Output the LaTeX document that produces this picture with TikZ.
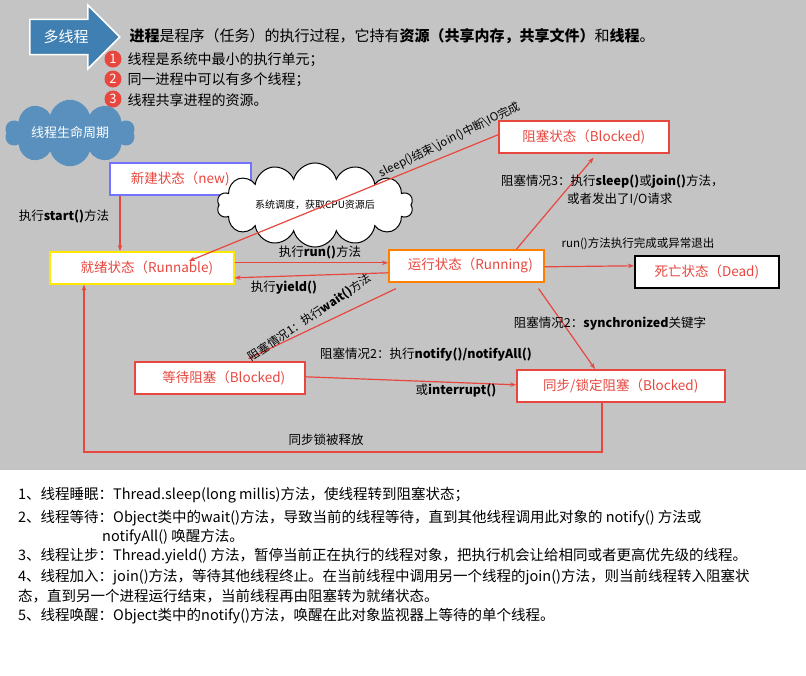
\documentclass[tikz,border=0pt]{standalone}
\usepackage{fontspec}
\setmainfont{Noto Sans CJK SC}
\usetikzlibrary{shapes.symbols,shapes.callouts,shapes.arrows,arrows.meta}
\definecolor{bg}{HTML}{C4C4C4}
\definecolor{rd}{HTML}{E8473F}
\begin{document}
\begin{tikzpicture}[x=1pt,y=-1pt,
 st/.style={draw=rd,fill=white,line width=1.6pt,minimum height=32pt,text=rd,font=\fontsize{13.5}{13.5}\selectfont,anchor=north west,inner sep=0pt},
 ar/.style={rd,line width=1.2pt,-{Stealth[length=6pt]}},
 lb/.style={font=\fontsize{12.5}{12.5}\selectfont,inner sep=1pt},
 num/.style={circle,fill=rd,text=white,inner sep=0pt,minimum size=17pt,font=\fontsize{13}{13}\selectfont}]
\fill[bg] (0,0) rectangle (806,470);
\fill[white] (0,470) rectangle (806,675);
\useasboundingbox (0,0) rectangle (806,675);
% header
\node[single arrow,draw=white,line width=1.5pt,fill=blue!45!cyan!60!black!75,single arrow head extend=9pt,single arrow head indent=0pt,minimum height=90pt,minimum width=64pt,text=white,font=\fontsize{15}{15}\selectfont,anchor=center] (mt) at (66,37) {多线程\hspace{14pt}};
\node[anchor=west,font=\fontsize{15}{15}\selectfont] (hd) at (126,36) {\textbf{进程}是程序（任务）的执行过程，它持有\textbf{资源（共享内存，共享文件）}和\textbf{线程}。};
\node[num] (n1) at (113,59) {1};
\node[num] (n2) at (113,79) {2};
\node[num] (n3) at (113,99) {3};
\node[anchor=west,font=\fontsize{14}{14}\selectfont] (t1) at (124,60) {线程是系统中最小的执行单元；};
\node[anchor=west,font=\fontsize{14}{14}\selectfont] (t2) at (124,80) {同一进程中可以有多个线程；};
\node[anchor=west,font=\fontsize{14}{14}\selectfont] (t3) at (124,100) {线程共享进程的资源。};
\node[cloud,cloud puffs=10,aspect=2.6,fill=blue!45!cyan!60!black!65,draw=none,text=white,font=\fontsize{13}{13}\selectfont,inner sep=0pt,minimum width=130pt,minimum height=48pt] (lc) at (70,133) {线程生命周期};
% states
\node[st,draw=blue!55,minimum width=141pt] (new) at (109,162) {新建状态（new)};
\node[st,draw=yellow!90!orange,minimum width=184pt] (rdy) at (49,251) {\hspace{10pt}就绪状态（Runnable)\hfill};
\node[st,draw=orange,minimum width=155pt] (run) at (388,249) {\hspace{8pt}运行状态（Running)\hfill};
\node[st,draw=black,minimum width=144pt] (dead) at (634,255) {死亡状态（Dead)};
\node[st,minimum width=170pt] (blk) at (498,120) {阻塞状态（Blocked)};
\node[st,minimum width=170pt] (wt) at (134,361) {\hspace{8pt}等待阻塞（Blocked)\hfill};
\node[st,minimum width=208pt] (sy) at (516,369) {同步/锁定阻塞（Blocked)};
\node[cloud,cloud puffs=14,aspect=3,draw=black,fill=white,line width=1pt,font=\fontsize{10}{10}\selectfont,minimum width=196pt,minimum height=58pt,inner sep=0pt] (sc) at (315,205) {系统调度，获取CPU资源后};
% arrows
\draw[ar] (new.south west)++(11,0) coordinate (a1) -- (a1|-rdy.north);
\draw[ar] ([yshift=5pt]rdy.east) -- ([yshift=3pt]run.west);
\draw[ar] ([yshift=-7pt]run.west) -- ([yshift=-10pt]rdy.east);
\draw[ar] ([yshift=-1pt]run.east) -- (dead.west|-run.east);
\draw[ar] ([xshift=-28pt]run.north east) -- ([xshift=-76pt,yshift=-4pt]blk.south east);
\draw[ar] ([yshift=2pt]blk.west) -- ([xshift=140pt,yshift=-10pt]rdy.north west);
\draw[ar] ([xshift=8pt,yshift=-6pt]run.south west) -- ([xshift=114pt,yshift=2pt]wt.north west);
\draw[ar] ([xshift=-6pt,yshift=-6pt]run.south east) -- ([xshift=79pt]sy.north west);
\draw[ar] ([yshift=1pt]wt.east) -- ([yshift=1pt]sy.west);
\coordinate (c1) at (602,452);
\coordinate (c2) at (84,452);
\draw[ar] (sy.south west)++(86,0) -- (c1) -- (c2) -- (c2|-rdy.south);
% labels
\node[lb] (l1) at (64,216) {执行\textbf{start()}方法};
\node[lb] (l2) at (320,252) {执行\textbf{run()}方法};
\node[lb] (l3) at (284,288) {执行\textbf{yield()}};
\node[lb,rotate=26,font=\fontsize{11.5}{11.5}\selectfont] (l4) at (450,140) {sleep()结束\textbackslash join()中断\textbackslash IO完成};
\node[lb,anchor=west] (l5) at (500,182) {阻塞情况3：执行\textbf{sleep()}或\textbf{join()}方法，};
\node[lb,anchor=west] (l6) at (566,199) {或者发出了I/O请求};
\node[lb,font=\fontsize{11.5}{11.5}\selectfont] (l7) at (638,244) {run()方法执行完成或异常退出};
\node[lb,rotate=34,font=\fontsize{11.5}{11.5}\selectfont] (l8) at (310,318) {阻塞情况1：执行\textbf{wait()}方法};
\node[lb] (l9) at (610,324) {阻塞情况2：\textbf{synchronized}关键字};
\node[lb] (l10) at (426,355) {阻塞情况2：执行\textbf{notify()/notifyAll()}};
\node[lb] (l11) at (456,391) {或\textbf{interrupt()}};
\node[lb] (l12) at (326,440) {同步锁被释放};
% bottom text
\begin{scope}[every node/.style={anchor=west,font=\fontsize{14.5}{14.5}\selectfont,inner sep=0pt}]
\node (b1) at (18,495) {1、线程睡眠：Thread.sleep(long millis)方法，使线程转到阻塞状态；};
\node (b2) at (18,518) {2、线程等待：Object类中的wait()方法，导致当前的线程等待，直到其他线程调用此对象的 notify() 方法或};
\node (b2b) at (102,537) {notifyAll() 唤醒方法。};
\node (b3) at (18,556) {3、线程让步：Thread.yield() 方法，暂停当前正在执行的线程对象，把执行机会让给相同或者更高优先级的线程。};
\node (b4) at (18,577) {4、线程加入：join()方法，等待其他线程终止。在当前线程中调用另一个线程的join()方法，则当前线程转入阻塞状};
\node (b4b) at (18,596) {态，直到另一个进程运行结束，当前线程再由阻塞转为就绪状态。};
\node (b5) at (18,616) {5、线程唤醒：Object类中的notify()方法，唤醒在此对象监视器上等待的单个线程。};
\end{scope}
\end{tikzpicture}
\end{document}
